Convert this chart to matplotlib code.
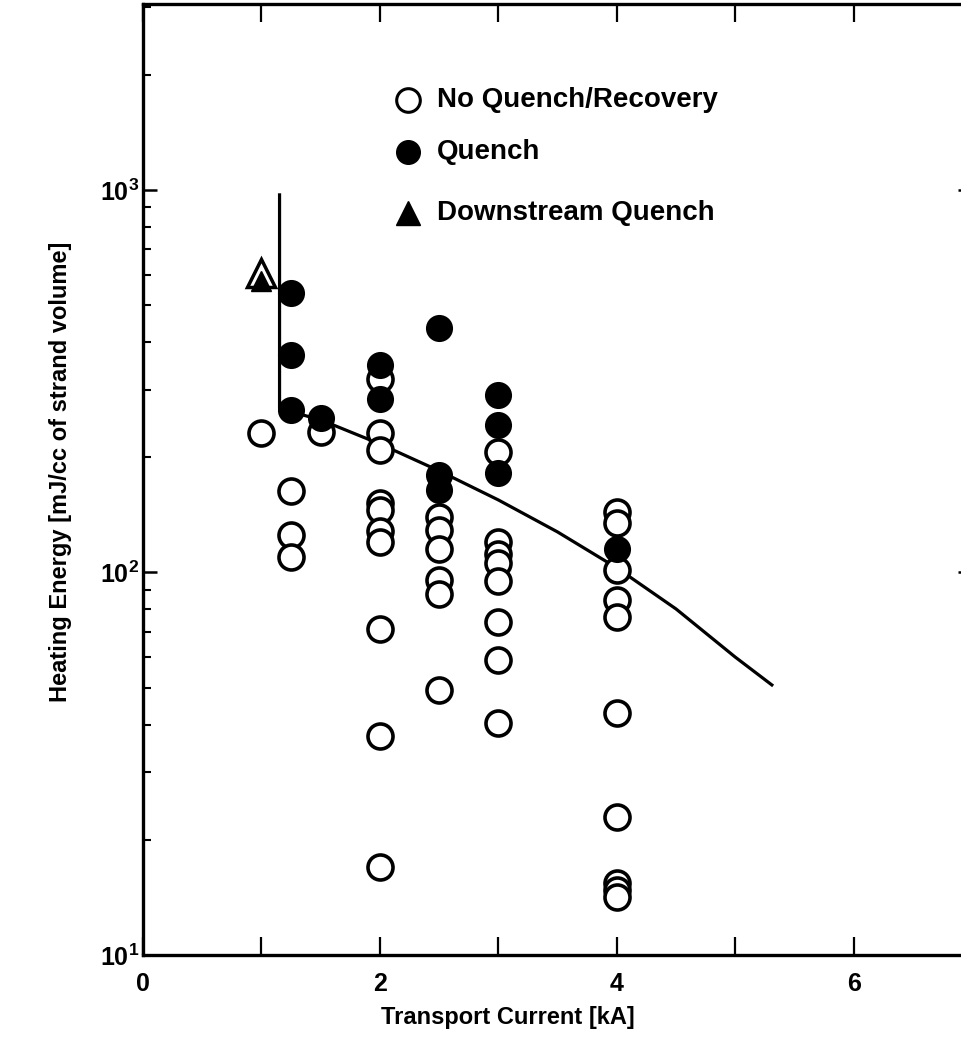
import math
import matplotlib
matplotlib.use("Agg")
import matplotlib.pyplot as plt
from matplotlib.ticker import FixedLocator, FuncFormatter, LogLocator, NullFormatter

plt.rcParams['font.family'] = ['Liberation Sans', 'DejaVu Sans']
plt.rcParams['font.weight'] = 'bold'
plt.rcParams['axes.labelweight'] = 'bold'
plt.rcParams['mathtext.fontset'] = 'custom'
plt.rcParams['mathtext.rm'] = 'Liberation Sans:bold'
plt.rcParams['mathtext.default'] = 'regular'

# ---- data ----
open_x = [1.0,
          1.25, 1.25, 1.25,
          1.5,
          2.0, 2.0, 2.0, 2.0, 2.0, 2.0, 2.0, 2.0, 2.0, 2.0,
          2.5, 2.5, 2.5, 2.5, 2.5, 2.5,
          3.0, 3.0, 3.0, 3.0, 3.0, 3.0, 3.0, 3.0,
          4.0, 4.0, 4.0, 4.0, 4.0, 4.0, 4.0, 4.0, 4.0, 4.0]
open_y = [232,
          163, 125, 110,
          233,
          321, 232, 209, 152, 146, 128, 120, 71, 37.4, 17.0,
          140, 129, 115, 95.5, 88, 49.3,
          207, 120, 112, 106, 95, 74, 59, 40.4,
          144, 135, 101.6, 84.7, 76.5, 43, 23, 15.4, 14.8, 14.2]

filled_x = [1.25, 1.25, 1.25, 1.5, 2.0, 2.0, 2.5, 2.5, 2.5, 3.0, 3.0, 3.0, 4.0]
filled_y = [538, 370, 266, 253, 348, 284, 435, 180, 164, 291, 243, 182, 115]

tri_open_x = [1.0]
tri_open_y = [605]
tri_fill_x = [1.0]
tri_fill_y = [578]

curve_x = [1.153, 1.153, 1.5, 2.0, 2.5, 3.0, 3.5, 4.0, 4.5, 5.0, 5.31]
curve_y = [970, 268, 250.5, 216.7, 184.3, 154.7, 127.6, 102.8, 80.3, 60.1, 50.8]

xticks_major = [0, 1, 2, 3, 4, 5, 6, 7]
xtick_labels = ['0', '', '2', '', '4', '', '6', '']
legend_labels = ['No Quench/Recovery', 'Quench', 'Downstream Quench']

# ---- figure ----
W, H = 961, 1044
fig = plt.figure(figsize=(W / 100, H / 100), dpi=100)
ax = fig.add_axes([143 / W, (H - 955) / H, (972 - 143) / W, (955 - 4) / H])

ax.set_yscale('log')
ax.set_xlim(0, 7)
ax.set_ylim(10, 3060)

ms = 18
ax.plot(curve_x, curve_y, color='black', lw=2.3, zorder=2)
ax.plot(open_x, open_y, linestyle='none', marker='o', ms=ms, mfc='white',
        mec='black', mew=2.6, zorder=3)
ax.plot(filled_x, filled_y, linestyle='none', marker='o', ms=ms, mfc='black',
        mec='black', mew=1.5, zorder=4)
ax.plot(tri_open_x, tri_open_y, linestyle='none', marker='^', ms=20, mfc='white',
        mec='black', mew=2.5, zorder=4)
ax.plot(tri_fill_x, tri_fill_y, linestyle='none', marker='^', ms=15, mfc='black',
        mec='black', mew=1, zorder=5)


def fx(px):
    return (px - 143) / (972 - 143)


def fy(py):
    return (955 - py) / (955 - 4)


# ---- axes styling ----
for sp in ax.spines.values():
    sp.set_linewidth(2.4)

ax.xaxis.set_major_locator(FixedLocator(xticks_major))
ax.set_xticklabels(xtick_labels)
ax.tick_params(axis='x', which='major', direction='in', length=13, width=1.6,
               top=True, bottom=True, labelsize=18, pad=12)

ax.yaxis.set_major_locator(LogLocator(base=10, numticks=10))
ax.yaxis.set_minor_locator(LogLocator(base=10, subs=range(2, 10), numticks=20))
ax.yaxis.set_minor_formatter(NullFormatter())
ax.yaxis.set_major_formatter(FuncFormatter(
    lambda v, p: '10$^{%d}$' % round(math.log10(v))))
ax.tick_params(axis='y', which='major', direction='in', length=10, width=1.8,
               left=True, right=True, labelsize=18, pad=3)
ax.tick_params(axis='y', which='minor', direction='in', length=6, width=1.5,
               left=True, right=True)

ax.set_xlabel('Transport Current [kA]', fontsize=17, fontweight='bold')
ax.xaxis.set_label_coords(fx(508), fy(1006))
ax.set_ylabel('Heating Energy [mJ/cc of strand volume]', fontsize=17,
              fontweight='bold')
ax.yaxis.set_label_coords(fx(72), fy(472))

# ---- legend (manual) ----
leg_rows = [(100, dict(marker='o', mfc='white', mec='black', mew=2.2, ms=17)),
            (152, dict(marker='o', mfc='black', mec='black', mew=1, ms=17)),
            (213, dict(marker='^', mfc='black', mec='black', mew=1, ms=17))]
for (py, style), lab in zip(leg_rows, legend_labels):
    ax.plot([fx(408)], [fy(py)], transform=ax.transAxes, linestyle='none',
            clip_on=False, **style)
    ax.text(fx(437), fy(py), lab, transform=ax.transAxes, fontsize=20,
            fontweight='bold', va='center', ha='left')

fig.savefig('out.png', dpi=100)
